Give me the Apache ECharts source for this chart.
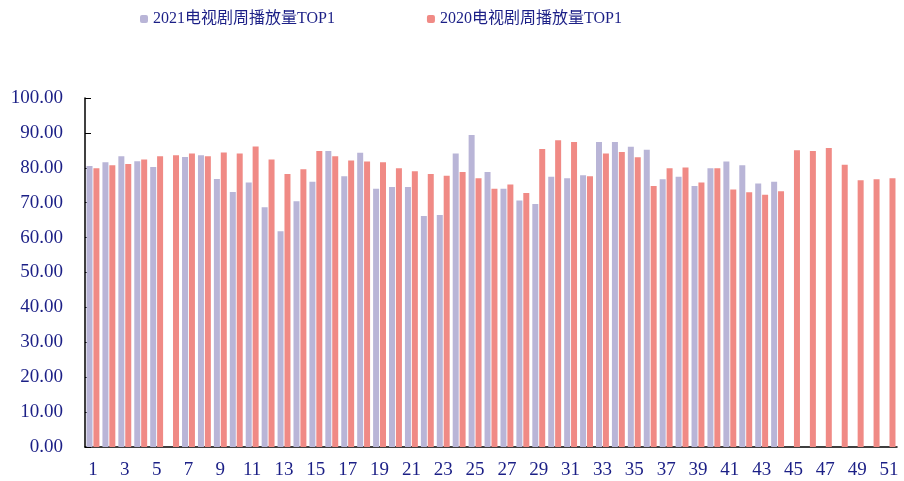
<!DOCTYPE html>
<html>
<head>
<meta charset="utf-8">
<script src="https://cdn.jsdelivr.net/npm/echarts@6/dist/echarts.min.js"></script>
<style>
  html, body { margin: 0; padding: 0; background: #fff; }
  #chart { width: 904px; height: 481px; }
</style>
</head>
<body>
<div id="chart"></div>
<script>
// 周数 1-51
const weeks = []
for (let i = 1; i <= 51; i++) weeks.push(String(i))

// 2021 电视剧周播放量 TOP1 (第6周及45周以后无数据)
const top2021 = [
  80.5, 81.6, 83.3, 81.9, 80.2, null, 83.1, 83.6, 76.8, 73.1,
  75.8, 68.7, 61.8, 70.4, 76.0, 84.8, 77.6, 84.3, 74.0, 74.5,
  74.5, 66.2, 66.5, 84.1, 89.4, 78.8, 74.0, 70.6, 69.6, 77.4,
  77.0, 77.9, 87.4, 87.4, 86.0, 85.2, 76.7, 77.4, 74.8, 79.9,
  81.8, 80.7, 75.5, 76.0, null, null, null, null, null, null, null
]

// 2020 电视剧周播放量 TOP1
const top2020 = [
  79.9, 80.7, 81.1, 82.4, 83.3, 83.6, 84.1, 83.3, 84.4, 84.1,
  86.1, 82.4, 78.2, 79.6, 84.8, 83.3, 82.1, 81.8, 81.6, 79.9,
  79.0, 78.2, 77.7, 78.8, 77.0, 74.0, 75.2, 72.8, 85.4, 87.9,
  87.4, 77.6, 84.1, 84.5, 83.0, 74.8, 79.9, 80.1, 75.8, 79.9,
  73.8, 73.0, 72.3, 73.3, 85.0, 84.8, 85.7, 80.9, 76.4, 76.7, 77.0
]

const textColor = '#1b1f86'
const fontFamily = '"Liberation Serif", "Noto Sans CJK SC", serif'

const chart = echarts.init(document.getElementById('chart'))
chart.setOption({
  animation: false,
  textStyle: { fontFamily: fontFamily },
  legend: {
    left: 135,
    top: 6,
    itemWidth: 8,
    itemHeight: 8,
    itemGap: 92,
    textStyle: { color: textColor, fontSize: 16, fontFamily: fontFamily },
    data: ['2021电视剧周播放量TOP1', '2020电视剧周播放量TOP1']
  },
  grid: {
    left: 85,
    right: 7,
    top: 98,
    bottom: 34
  },
  xAxis: {
    type: 'category',
    data: weeks,
    axisLine: { lineStyle: { color: '#000', width: 1.5 } },
    axisTick: { inside: true, length: 5, lineStyle: { color: '#000' } },
    axisLabel: {
      interval: 1,
      color: textColor,
      fontSize: 19,
      margin: 14,
      fontFamily: fontFamily
    }
  },
  yAxis: {
    type: 'value',
    min: 0,
    max: 100,
    interval: 10,
    splitLine: { show: false },
    axisLine: { show: true, lineStyle: { color: '#000', width: 1.5 } },
    axisTick: { show: true, inside: true, length: 6, lineStyle: { color: '#000' } },
    axisLabel: {
      color: textColor,
      fontSize: 19,
      margin: 22,
      fontFamily: fontFamily,
      formatter: function(v) { return v.toFixed(2) }
    }
  },
  series: [
    {
      name: '2021电视剧周播放量TOP1',
      type: 'bar',
      data: top2021,
      barWidth: 6,
      barGap: '15%',
      itemStyle: { color: '#b9b5d7' }
    },
    {
      name: '2020电视剧周播放量TOP1',
      type: 'bar',
      data: top2020,
      barWidth: 6,
      itemStyle: { color: '#f08a85' }
    }
  ]
})
</script>
</body>
</html>
